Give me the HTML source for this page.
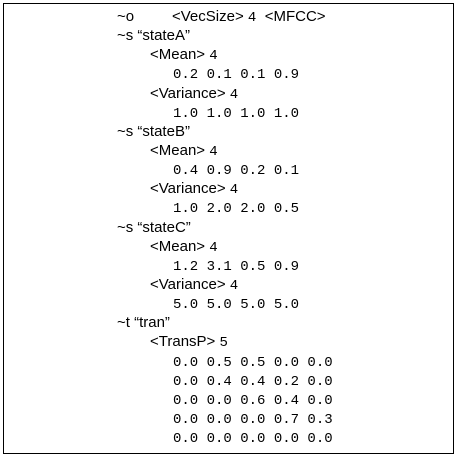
<!DOCTYPE html>
<html><head><meta charset="utf-8"><style>
html,body{margin:0;padding:0;background:#fff;}
#page{position:relative;width:457px;height:465px;overflow:hidden;}
#box{position:absolute;left:3px;top:3px;width:449px;height:449px;border:1.3px solid #000;}
.l{position:absolute;height:20px;line-height:20px;white-space:pre;font-family:"Liberation Sans",sans-serif;font-size:15px;color:#000;}
.m{font-family:"Liberation Mono",monospace;font-size:14px;}
</style></head><body>
<div id="page">
<div id="box"></div>
<div id="lines"></div>
</div>
<script>
const rows=[
[117,"~o","",""],[172,"<VecSize> ","4 ","<MFCC>"],
[117,"~s “stateA”","",""],[150,"<Mean> ","4",""],[173,"","0.2 0.1 0.1 0.9",""],[150,"<Variance> ","4",""],[173,"","1.0 1.0 1.0 1.0",""],
[117,"~s “stateB”","",""],[150,"<Mean> ","4",""],[173,"","0.4 0.9 0.2 0.1",""],[150,"<Variance> ","4",""],[173,"","1.0 2.0 2.0 0.5",""],
[117,"~s “stateC”","",""],[150,"<Mean> ","4",""],[173,"","1.2 3.1 0.5 0.9",""],[150,"<Variance> ","4",""],[173,"","5.0 5.0 5.0 5.0",""],
[117,"~t “tran”","",""],[150,"<TransP> ","5",""],[173,"","0.0 0.5 0.5 0.0 0.0",""],[173,"","0.0 0.4 0.4 0.2 0.0",""],[173,"","0.0 0.0 0.6 0.4 0.0",""],[173,"","0.0 0.0 0.0 0.7 0.3",""],[173,"","0.0 0.0 0.0 0.0 0.0",""]
];
const host=document.getElementById('lines');
rows.forEach((r,i)=>{
  const d=document.createElement('div');
  
  
  d.className='l';
  const idx=i<=1?0:i-1;
  d.style.left=r[0]+'px';
  d.style.top=(7+idx*19.14)+'px';
  if(r[1]){const s=document.createElement('span');s.textContent=r[1];d.appendChild(s);}
  if(r[2]){const s=document.createElement('span');s.className='m';s.textContent=r[2];d.appendChild(s);}
  if(r[3]){const s=document.createElement('span');s.textContent=r[3];d.appendChild(s);}
  host.appendChild(d);
});
</script>
</body></html>
